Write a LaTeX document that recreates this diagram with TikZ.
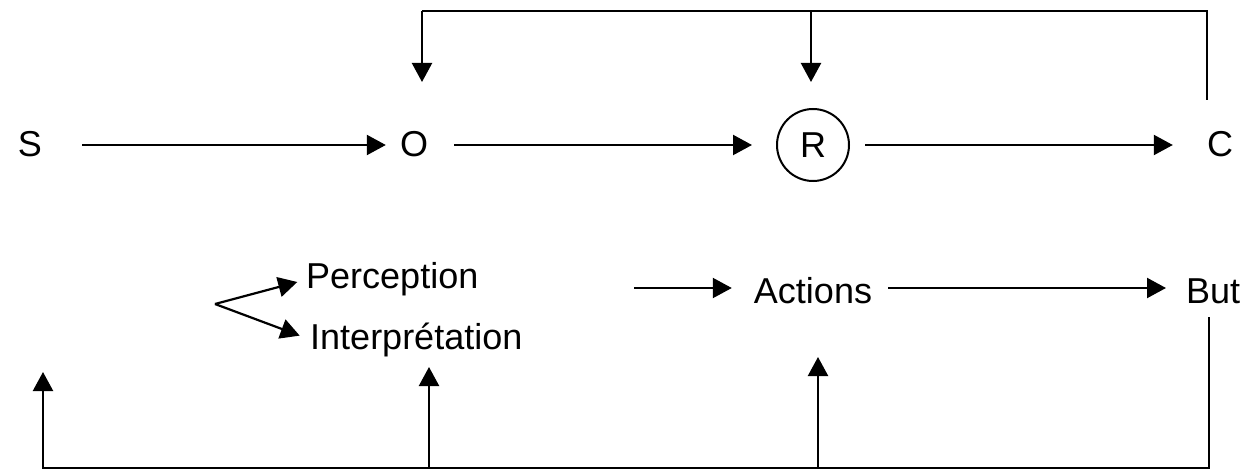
\documentclass[tikz,border=0pt]{standalone}
\usepackage{fontspec}
\setmainfont{Liberation Sans}
\usetikzlibrary{arrows.meta}
\begin{document}
\begin{tikzpicture}[x=1pt,y=-1pt,
  lbl/.style={inner sep=0pt,font=\fontsize{36}{40}\selectfont},
  conn/.style={line width=2.2pt},
  arr/.style={conn,-{Triangle[length=19pt,width=20pt]}}]
\useasboundingbox (0,0) rectangle (1259,473);
% top row
\node[lbl,anchor=base] (S) at (30,157) {S};
\node[lbl,anchor=base] (O) at (414,157) {O};
\node[lbl,draw,circle,line width=2pt,minimum size=72pt] (R) at (813,145) {R};
\node[lbl,anchor=base] (C) at (1220,157) {C};
\draw[arr,shorten <=40pt,shorten >=14pt] (S.east |- R.center) -- (O.west |- R.center);
\draw[arr,shorten <=26pt,shorten >=24pt] (O.east |- R.center) -- (R.west);
\draw[arr,shorten <=15pt,shorten >=34pt] (R.east) -- (C.west |- R.center);
% top feedback
\coordinate (cTop) at (1207,100);
\coordinate (tR) at (1207,11);
\coordinate (tO) at (422,11);
\coordinate (tM) at (811,11);
\coordinate (aO) at (422,82);
\coordinate (aR) at (811,82);
\draw[conn] (cTop) -- (tR) -- (tO);
\draw[arr] (tO) -- (aO);
\draw[arr] (tM) -- (aR);
% bottom row
\node[lbl,anchor=base west] (P) at (306,289) {Perception};
\node[lbl,anchor=base west] (I) at (310,349) {Interprétation};
\node[lbl,anchor=base] (A) at (813,303) {Actions};
\node[lbl,anchor=base west] (B) at (1186,303) {But};
\coordinate (fork) at (215,304);
\draw[arr,shorten >=9pt] (fork) -- (P.west);
\draw[arr,shorten >=11pt] (fork) -- (I.west);
\coordinate (aS) at (634,288);
\draw[arr,shorten >=22pt] (aS) -- (aS -| A.west);
\draw[arr,shorten <=16pt,shorten >=20pt] (A.east |- aS) -- (B.west |- aS);
% bottom feedback
\coordinate (bTop) at (1209,317);
\coordinate (bR) at (1209,468);
\coordinate (bL) at (43,468);
\coordinate (uL) at (43,372);
\coordinate (bI) at (429,468);
\coordinate (uI) at (429,367);
\coordinate (bA) at (818,468);
\coordinate (uA) at (818,357);
\draw[arr] (bTop) -- (bR) -- (bL) -- (uL);
\draw[arr] (bI) -- (uI);
\draw[arr] (bA) -- (uA);
\end{tikzpicture}
\end{document}
